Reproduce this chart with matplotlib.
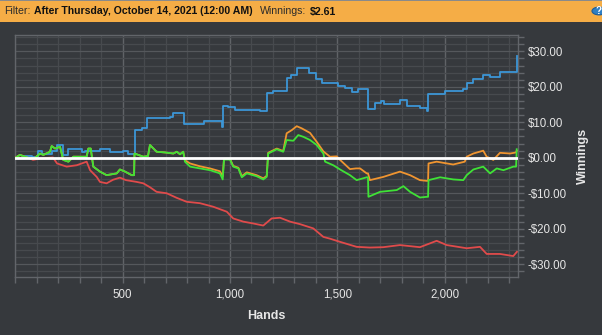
import matplotlib
matplotlib.use("Agg")
import matplotlib.pyplot as plt
from matplotlib.ticker import MultipleLocator, FuncFormatter
from matplotlib.patches import Rectangle, Circle

# ---------------- data (hands, winnings $) ----------------
blue_x = [0, 45, 77, 107, 123, 169, 192, 217, 220, 247, 309, 324, 394, 441, 503, 526,
          553, 557, 589, 612, 627, 720, 734, 786, 879, 960, 963, 967, 991, 1023, 1093,
          1140, 1171, 1199, 1267, 1284, 1311, 1370, 1401, 1427, 1505, 1536, 1567, 1598,
          1645, 1676, 1702, 1718, 1792, 1823, 1885, 1917, 1924, 2002, 2087, 2103, 2134,
          2180, 2212, 2258, 2333, 2336]
blue_y = [0, 0.6, 0.2, 2.0, 1.2, 2.0, 3.6, 3.6, 0.8, 2.4, 1.7, 2.0, 2.6, 1.7, 2.0, 1.2,
          1.2, 7.8, 8.3, 11.1, 11.3, 11.5, 12.5, 9.5, 10.4, 10.3, 8.7, 14.6, 14.4, 13.4, 13.4,
          13.2, 18.3, 18.9, 22.4, 23.3, 25.2, 23.8, 22.1, 21.2, 20.3, 19.8, 18.4, 19.3,
          13.7, 15.3, 16.0, 15.1, 16.3, 14.6, 13.9, 13.2, 18.1, 18.8, 19.5, 21.0, 22.2,
          23.3, 22.8, 24.2, 24.2, 28.6]

red_x = [0, 21, 54, 82, 115, 175, 194, 239, 286, 332, 348, 379, 394, 425, 455, 487, 515,
         565, 596, 627, 658, 705, 752, 798, 860, 922, 985, 1015, 1062, 1107, 1155, 1194,
         1233, 1280, 1326, 1388, 1435, 1466, 1513, 1590, 1652, 1714, 1792, 1885, 1963,
         2010, 2103, 2165, 2196, 2258, 2320, 2337]
red_y = [0, 0.8, 0.2, -0.6, -0.2, 0.1, -1.6, -2.5, -2.1, -1.1, -3.5, -5.4, -6.8, -7.2,
         -6.2, -5.6, -6.3, -6.8, -7.2, -8.3, -9.6, -10.0, -11.3, -12.4, -12.8, -13.8,
         -15.2, -17.1, -18.0, -18.5, -19.1, -17.1, -16.9, -18.0, -18.7, -19.9, -22.3,
         -22.8, -23.7, -25.1, -25.3, -25.2, -24.6, -25.2, -23.4, -24.6, -25.5, -25.1,
         -27.1, -27.1, -27.7, -26.5]

green_x = [0, 21, 68, 92, 115, 130, 161, 169, 185, 208, 223, 247, 270, 332, 340, 351, 363,
           394, 425, 472, 487, 511, 542, 553, 555, 596, 618, 627, 658, 697, 736, 752, 767,
           782, 790, 814, 860, 907, 953, 966, 972, 1000, 1015, 1039, 1055, 1078, 1124,
           1155, 1171, 1178, 1218, 1248, 1264, 1295, 1318, 1342, 1373, 1404, 1435, 1443,
           1481, 1513, 1559, 1590, 1637, 1643, 1645, 1699, 1777, 1808, 1839, 1885, 1917,
           1923, 1925, 1979, 2040, 2087, 2103, 2134, 2180, 2212, 2243, 2274, 2320, 2333,
           2336]
green_y = [0, 0.8, -0.2, 0, 1.2, 0.8, 1.7, 3.3, 2.6, 3.1, -0.6, -1.1, 0.3, 0.3, 2.6, 2.6,
           -2.5, -3.9, -4.9, -4.4, -3.3, -3.9, -4.9, -4.9, 1.2, 0.3, 0.5, 3.6, 1.7, 1.5,
           1.2, 1.7, 1.0, 1.7, -1.1, -2.5, -3.0, -3.5, -4.4, -6.1, -0.5, -0.5, -2.5, -3.0,
           -5.5, -4.4, -5.2, -6.1, -5.4, 1.2, 2.4, 1.7, 5.0, 4.8, 6.4, 5.9, 5.0, 3.6, 1.2,
           -1.1, -2.1, -3.3, -4.9, -6.3, -5.5, -5.5, -11.0, -9.6, -9.1, -8.0, -9.6, -11.2,
           -11.0, -11.0, -6.3, -5.5, -6.1, -6.3, -4.9, -3.3, -2.5, -4.4, -3.0, -3.5, -2.5,
           -2.5, 2.4]

orange_x = [0, 21, 68, 92, 115, 130, 161, 169, 185, 208, 223, 247, 270, 332, 340, 351,
            363, 394, 425, 472, 487, 511, 542, 553, 555, 596, 618, 627, 658, 697, 736, 752,
            767, 782, 790, 814, 860, 907, 953, 966, 972, 1000, 1015, 1039, 1055, 1078,
            1124, 1155, 1171, 1178, 1218, 1248, 1264, 1288, 1311, 1334, 1373, 1404, 1435,
            1466, 1497, 1513, 1559, 1587, 1606, 1637, 1643, 1652, 1714, 1792, 1839, 1885,
            1917, 1923, 1925, 1963, 2040, 2094, 2103, 2134, 2180, 2196, 2227, 2258, 2305,
            2333, 2336]
orange_y = [0, 0.8, -0.2, 0, 1.2, 0.8, 1.7, 3.3, 2.6, 3.1, -0.6, -1.1, 0.3, 0.3, 2.6,
            2.6, -2.5, -3.9, -4.9, -4.4, -3.3, -3.9, -4.9, -4.9, 1.2, 0.3, 0.5, 3.6, 1.7,
            1.5, 1.2, 1.7, 1.0, 1.7, -0.7, -1.6, -2.4, -3.0, -3.8, -5.2, -0.3, -0.3, -2.3,
            -2.8, -5.2, -4.1, -4.9, -5.8, -5.1, 1.4, 2.6, 1.9, 6.9, 7.8, 8.9, 8.3, 7.0, 4.5,
            1.8, 0.3, 0.4, -0.6, -3.2, -3.0, -3.0, -4.4, -4.4, -6.3, -5.4, -3.9, -4.9,
            -6.3, -6.5, -6.5, -1.6, -1.1, -1.9, -1.1, 0.3, 1.2, 2.0, 0.3, -0.6, 1.4, 1.2,
            1.5, 2.0]

x_major = [500, 1000, 1500, 2000]
y_major = [-30, -20, -10, 0, 10, 20, 30]

filter_label = "Filter:"
filter_value = "After Thursday, October 14, 2021 (12:00 AM)"
win_label = "Winnings:"
win_value = "$2.61"

# ---------------- style ----------------
BG = "#36393d"
W, H = 602, 335
fig = plt.figure(figsize=(W / 100, H / 100), dpi=100, facecolor=BG)
plt.rcParams["font.family"] = ["Liberation Sans", "DejaVu Sans"]

def fx(px):
    return px / W

def fy(py):
    return 1 - py / H

ax = fig.add_axes([fx(15.4), fy(277), fx(518) - fx(15.4), fy(35) - fy(277)])
ax.set_facecolor(BG)
ax.set_xlim(0, 2342)
ax.set_ylim(-33.6, 34.6)

ax.xaxis.set_minor_locator(MultipleLocator(100))
ax.yaxis.set_minor_locator(MultipleLocator(2))
ax.set_xticks(x_major)
ax.set_yticks(y_major)

ax.grid(which="minor", color="#474a4e", linewidth=0.9)
ax.grid(which="major", axis="x", color="#606367", linewidth=1.0)
ax.grid(which="major", axis="y", color="#55585c", linewidth=0.9)
ax.set_axisbelow(True)

for s in ax.spines.values():
    s.set_color("#62656a")
    s.set_linewidth(1.0)

ax.yaxis.tick_right()
ax.tick_params(axis="both", which="both", colors="#62656a", direction="out")
ax.tick_params(axis="x", which="both", length=4, width=1, labelcolor="#e6e6e6",
               labelsize=8.3, pad=4.5)
ax.tick_params(axis="y", which="both", length=4, width=1, labelcolor="#e6e6e6",
               labelsize=8.3, pad=3)
ax.tick_params(axis="y", left=False, right=True)

def money(v, pos=None):
    v = int(round(v))
    return ("-$%d.00" % abs(v)) if v < 0 else ("$%d.00" % v)

ax.yaxis.set_major_formatter(FuncFormatter(money))
ax.xaxis.set_major_formatter(FuncFormatter(lambda v, p: f"{int(v):,}"))
for lab in ax.get_yticklabels():
    lab.set_horizontalalignment("left")

lw = 1.3
ax.plot(red_x, red_y, color="#e04b4b", lw=lw, zorder=3)
ax.step(blue_x, blue_y, where="post", color="#3c96d6", lw=lw, zorder=3)
ax.plot(orange_x, orange_y, color="#f09530", lw=lw, zorder=4)
ax.plot(green_x, green_y, color="#3fe236", lw=lw, zorder=5)
ax.axhline(0, color="white", lw=2.0, zorder=6)

fig.text(fx(266.7), fy(316), "Hands", ha="center", va="center", color="#e6e6e6",
         fontsize=9, fontweight="bold")
fig.text(fx(583), fy(156), "Winnings", ha="center", va="center", color="#e6e6e6",
         fontsize=9, fontweight="bold", rotation=90)

# ---------------- banner ----------------
fig.patches.append(Rectangle((0, fy(22)), 1, 1 - fy(22), transform=fig.transFigure,
                             facecolor="#f5ad46", edgecolor="none", zorder=0))
fig.patches.append(Rectangle((0, fy(1)), 1, 1 - fy(1), transform=fig.transFigure,
                             facecolor="#8a8a8a", edgecolor="none", zorder=1))
ty = fy(11.5)
renderer = fig.canvas.get_renderer()

# fit the bold filter text to its width, then use that size for all banner pieces
probe = fig.text(fx(34), ty, filter_value, ha="left", va="center", color="#111111",
                 fontsize=8, fontweight="bold")
bsize = 8 * (255 - 34) / probe.get_window_extent(renderer).width
probe.set_fontsize(bsize)

def piece(x0, s, weight, color):
    return fig.text(fx(x0), ty, s, ha="left", va="center", color=color,
                    fontsize=bsize, fontweight=weight)

piece(4, filter_label, "normal", "#2b2b2b")
piece(260, win_label, "normal", "#2b2b2b")
piece(310, win_value, "bold", "#111111")

icon = Circle((fx(599), fy(11)), radius=7 / W, transform=fig.transFigure,
              facecolor="#2f7fc4", edgecolor="#1d5d99", lw=0.8, zorder=2)
fig.patches.append(icon)
fig.text(fx(599), fy(11.5), "?", ha="center", va="center", color="white", fontsize=7,
         fontweight="bold")

fig.savefig("out.png", dpi=100, facecolor=BG)
